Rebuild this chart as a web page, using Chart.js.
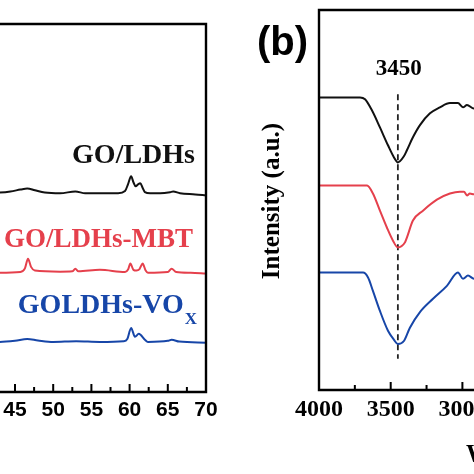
<!DOCTYPE html>
<html>
<head>
<meta charset="utf-8">
<script src="https://cdn.jsdelivr.net/npm/chart.js@4"></script>
<style>
  html, body { margin:0; padding:0; width:474px; height:474px; overflow:hidden; background:#fff; }
  .wrap { position:absolute; }
  canvas { display:block; }
</style>
</head>
<body>
<div class="wrap" id="wa" style="left:-63px;top:14px;width:299px;height:420px;"><canvas id="ca" width="299" height="420" style="width:299px;height:420px"></canvas></div>
<div class="wrap" id="wb" style="left:240px;top:0px;width:334px;height:474px;"><canvas id="cb" width="334" height="474" style="width:334px;height:474px"></canvas></div>
<script>
// ---------- Panel (a): XRD ----------
const xrdTickLabels = [40, 45, 50, 55, 60, 65, 70];
const xrdMinorTicks = [42.5, 47.5, 52.5, 57.5, 62.5, 67.5];
const xrdGoLdhsAngle = [40,41.5,43.0,44.4,45.7,46.6,47.6,48.9,50.9,52.9,54.2,56.1,58.5,59.4,59.8,60.2,60.5,60.8,61.1,61.4,61.7,62.0,62.7,64.0,65.3,65.7,66.6,68.6,70];
const xrdGoLdhsInt   = [54.0,54.1,54.2,54.5,55.0,55.3,54.8,54.2,54.0,54.5,54.0,54.0,54.0,54.6,56.5,58.6,57.0,55.9,56.4,56.7,55.5,54.3,54.0,54.0,54.3,54.5,54.0,53.7,53.4];
const xrdMbtAngle = [40,43.0,45.7,46.3,46.7,47.1,47.6,50.9,52.5,52.9,53.3,56.1,59.4,59.8,60.1,60.5,60.9,61.3,61.7,62.1,62.4,65.0,65.5,66.1,68.0,70];
const xrdMbtInt   = [32.4,32.4,32.6,33.6,36.2,34.0,33.0,32.7,32.8,33.5,32.8,33.2,32.6,33.3,34.9,33.2,33.0,33.4,34.9,33.0,32.4,32.6,33.5,32.6,32.4,32.2];
const xrdVoxAngle = [40,43.0,45.0,46.6,48.0,50.0,53.0,56.1,59.2,59.7,60.2,60.7,61.2,62.0,62.4,65.0,65.5,66.5,70];
const xrdVoxInt   = [13.6,13.6,13.9,14.4,14.0,13.6,13.8,13.6,13.8,14.4,17.4,15.0,15.8,14.2,13.6,13.9,14.2,13.7,13.4];

// ---------- Panel (b): FTIR ----------
const ftirTickLabels = [4000, 3500, 3000, 2500];
const ftirMinorTicks = [3750, 3250, 2750];
const ftirGoLdhsWn  = [4000,3714,3679,3631,3575,3519,3477,3450,3408,3387,3345,3296,3226,3157,3087,3031,2996,2968,2920,2878];
const ftirGoLdhsInt = [77.0,77.0,76.5,73.6,69.1,64.4,61.2,59.9,61.5,63.1,66.5,69.7,72.8,74.4,75.5,75.5,74.4,75.0,74.1,74.1];
const ftirMbtWn  = [4000,3665,3624,3575,3526,3484,3450,3401,3387,3345,3275,3178,3087,3017,2989,2968,2948,2920,2878];
const ftirMbtInt = [53.8,53.8,51.7,47.2,42.7,39.3,37.5,38.8,40.1,44.6,47.2,50.1,51.7,52.2,52.2,51.2,51.7,51.5,51.5];
const ftirVoxWn  = [4000,3693,3658,3624,3575,3519,3477,3450,3408,3366,3296,3205,3108,3031,2996,2961,2920,2878];
const ftirVoxInt = [30.9,30.9,29.6,26.1,20.8,15.6,13.2,12.1,12.9,16.4,20.5,24.0,27.4,30.9,29.3,30.1,29.3,29.5];
const ftirMarker = 3450;
const ftirMarkerRange = [77.8, 8.2];

const COL_BLACK = '#111111', COL_RED = '#e5404c', COL_BLUE = '#1746a8';
const SERIF = '"Liberation Serif", "Times New Roman", serif';
const SANS = '"Liberation Sans", Arial, sans-serif';

function pts(xs, ys) { return xs.map((x, i) => ({x: x, y: ys[i]})); }
function line(data, color, extra) {
  return Object.assign({data: data, borderColor: color, borderWidth: 2, pointRadius: 0, fill: false,
    cubicInterpolationMode: 'monotone', tension: 0.3}, extra || {});
}

function frameAndTicks(ctx, area, xScale, majors, minors, sides) {
  ctx.save();
  ctx.strokeStyle = '#000';
  ctx.lineWidth = 2.4;
  ctx.lineCap = 'square';
  ctx.beginPath();
  ctx.moveTo(area.left, area.bottom); ctx.lineTo(area.right, area.bottom);
  if (sides.top) { ctx.moveTo(area.left, area.top); ctx.lineTo(area.right, area.top); }
  if (sides.left) { ctx.moveTo(area.left, area.top); ctx.lineTo(area.left, area.bottom); }
  if (sides.right) { ctx.moveTo(area.right, area.top); ctx.lineTo(area.right, area.bottom); }
  ctx.stroke();
  ctx.lineWidth = 2;
  ctx.lineCap = 'butt';
  ctx.beginPath();
  majors.forEach(v => { const x = xScale.getPixelForValue(v); ctx.moveTo(x, area.bottom); ctx.lineTo(x, area.bottom - 8); });
  minors.forEach(v => { const x = xScale.getPixelForValue(v); ctx.moveTo(x, area.bottom); ctx.lineTo(x, area.bottom - 5); });
  ctx.stroke();
  ctx.restore();
}

const plugA = {
  id: 'plugA',
  afterDraw(chart) {
    const ctx = chart.ctx, a = chart.chartArea, xs = chart.scales.x;
    frameAndTicks(ctx, a, xs, xrdTickLabels, xrdMinorTicks, {top: true, right: true, left: true});
    ctx.save();
    ctx.textAlign = 'right';
    ctx.textBaseline = 'alphabetic';
    ctx.font = 'bold 28px ' + SERIF;
    ctx.fillStyle = COL_BLACK;
    ctx.fillText('GO/LDHs', a.right - 11, a.top + 139);
    ctx.font = 'bold 27px ' + SERIF;
    ctx.fillStyle = COL_RED;
    ctx.fillText('GO/LDHs-MBT', a.right - 13, a.top + 223);
    ctx.fillStyle = COL_BLUE;
    ctx.font = 'bold 17px ' + SERIF;
    const subW = ctx.measureText('X').width;
    ctx.fillText('X', a.right - 9, a.top + 300);
    ctx.font = 'bold 28px ' + SERIF;
    ctx.fillText('GOLDHs-VO', a.right - 9 - subW - 1, a.top + 289);
    ctx.restore();
  }
};

const plugB = {
  id: 'plugB',
  afterDraw(chart) {
    const ctx = chart.ctx, a = chart.chartArea, xs = chart.scales.x;
    frameAndTicks(ctx, a, xs, ftirTickLabels, ftirMinorTicks, {top: true, left: true, right: true});
    ctx.save();
    ctx.fillStyle = '#000';
    ctx.textBaseline = 'alphabetic';
    ctx.textAlign = 'center';
    ctx.font = 'bold 40px ' + SANS;
    ctx.fillText('(b)', 42.5, 55);
    ctx.font = 'bold 23px ' + SERIF;
    ctx.fillText(String(ftirMarker), xs.getPixelForValue(ftirMarker) + 1, 75);
    ctx.save();
    ctx.translate(38.5, 201);
    ctx.rotate(-Math.PI / 2);
    ctx.font = 'bold 25px ' + SERIF;
    ctx.fillText('Intensity (a.u.)', 0, 0);
    ctx.restore();
    ctx.textAlign = 'left';
    ctx.font = 'bold 25px ' + SERIF;
    ctx.fillText('Wavenumber (cm\u207B\u00B9)', 226, 462);
    ctx.restore();
  }
};

new Chart(document.getElementById('ca'), {
  type: 'line',
  data: { datasets: [
    line(pts(xrdGoLdhsAngle, xrdGoLdhsInt), COL_BLACK),
    line(pts(xrdMbtAngle, xrdMbtInt), COL_RED),
    line(pts(xrdVoxAngle, xrdVoxInt), COL_BLUE)
  ]},
  options: {
    responsive: false, devicePixelRatio: 1, animation: false,
    layout: { padding: { left: 39.8, right: 30, top: 10, bottom: 4.8 } },
    plugins: { legend: { display: false }, tooltip: { enabled: false } },
    scales: {
      x: { type: 'linear', min: 40, max: 70,
        afterBuildTicks: s => { s.ticks = xrdTickLabels.map(v => ({value: v})); },
        grid: { display: false, drawTicks: false, tickLength: 0 }, border: { display: false },
        ticks: { autoSkip: false, maxRotation: 0, padding: 6, color: '#000',
          callback: v => String(v),
          font: { family: SANS, size: 21, weight: 'bold' } } },
      y: { type: 'linear', min: 0, max: 100, display: false }
    }
  },
  plugins: [plugA]
});

new Chart(document.getElementById('cb'), {
  type: 'line',
  data: { datasets: [
    line(pts(ftirGoLdhsWn, ftirGoLdhsInt), COL_BLACK),
    line(pts(ftirMbtWn, ftirMbtInt), COL_RED),
    line(pts(ftirVoxWn, ftirVoxInt), COL_BLUE),
    line(pts([ftirMarker, ftirMarker], ftirMarkerRange), '#222', { borderWidth: 1.8, borderDash: [6, 4], cubicInterpolationMode: 'default', tension: 0 })
  ]},
  options: {
    responsive: false, devicePixelRatio: 1, animation: false,
    layout: { padding: { left: 79, right: 39.9, top: 10, bottom: 45.2 } },
    plugins: { legend: { display: false }, tooltip: { enabled: false } },
    scales: {
      x: { type: 'linear', min: 2500, max: 4000, reverse: true,
        afterBuildTicks: s => { s.ticks = ftirTickLabels.map(v => ({value: v})); },
        grid: { display: false, drawTicks: false, tickLength: 0 }, border: { display: false },
        ticks: { autoSkip: false, maxRotation: 0, padding: 5, color: '#000',
          callback: v => String(v),
          font: { family: SERIF, size: 24, weight: 'bold' } } },
      y: { type: 'linear', min: 0, max: 100, display: false }
    }
  },
  plugins: [plugB]
});
</script>
</body>
</html>
